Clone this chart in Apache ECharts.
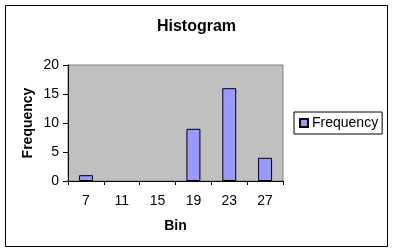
<!DOCTYPE html>
<html><head><meta charset="utf-8">
<script src="https://cdn.jsdelivr.net/npm/echarts@6/dist/echarts.min.js"></script>
<style>html,body{margin:0;padding:0;background:#fff}#c{width:393px;height:252px}</style>
</head><body><div id="c"></div>
<script>
const titleText = "Histogram";
const categories = ["7", "11", "15", "19", "23", "27"];
const frequency = [1, 0, 0, 9, 16, 4];
const seriesName = "Frequency";
const xName = "Bin";
const yName = "Frequency";

const font = "'Liberation Sans', Arial, sans-serif";
const chart = echarts.init(document.getElementById('c'), null, {renderer: 'canvas'});
const barData = frequency.map(v => v === 0 ? {value: v, itemStyle: {borderWidth: 0}} : v);
chart.setOption({
  animation: false,
  backgroundColor: '#fff',
  textStyle: {fontFamily: font},
  title: {text: titleText, left: 'center', top: 14,
    textStyle: {fontFamily: font, fontSize: 16, fontWeight: 'bold', color: '#000'}},
  graphic: [{type: 'rect', shape: {x: 5.5, y: 5.5, width: 382, height: 241},
    style: {fill: 'none', stroke: '#000', lineWidth: 1}, silent: true}],
  legend: {left: 294, top: 112, orient: 'vertical', padding: [4, 4, 4, 5],
    borderColor: '#000', borderWidth: 1, backgroundColor: '#fff',
    itemWidth: 8, itemHeight: 8, itemGap: 0,
    textStyle: {fontFamily: font, fontSize: 14, color: '#000', padding: [0, 0, 0, -1]},
    data: [{name: seriesName, icon: 'rect'}]},
  grid: {left: 68, top: 65, width: 215, height: 116, show: true,
    backgroundColor: '#C0C0C0', borderColor: '#808080', borderWidth: 1},
  xAxis: {type: 'category', data: categories, name: xName, nameLocation: 'middle', nameGap: 38,
    nameMoveOverlap: false,
    nameTextStyle: {fontFamily: font, fontSize: 14, fontWeight: 'bold', color: '#000'},
    axisLine: {lineStyle: {color: '#000', width: 1}},
    axisTick: {show: true, length: 4, lineStyle: {color: '#000'}, alignWithLabel: false},
    axisLabel: {fontFamily: font, fontSize: 14, color: '#000', margin: 13},
    splitLine: {show: false}},
  yAxis: {type: 'value', min: 0, max: 20, interval: 5, name: yName, nameLocation: 'middle', nameGap: 33,
    nameMoveOverlap: false,
    nameTextStyle: {fontFamily: font, fontSize: 14, fontWeight: 'bold', color: '#000'},
    axisLine: {show: true, lineStyle: {color: '#000', width: 1}},
    axisTick: {show: true, length: 5, inside: false, lineStyle: {color: '#000'}},
    axisLabel: {fontFamily: font, fontSize: 14, color: '#000', margin: 9},
    splitLine: {show: false}},
  series: [{name: seriesName, type: 'bar', data: barData, barWidth: 14,
    itemStyle: {color: '#9999FF', borderColor: '#000', borderWidth: 1}}]
});
</script></body></html>
